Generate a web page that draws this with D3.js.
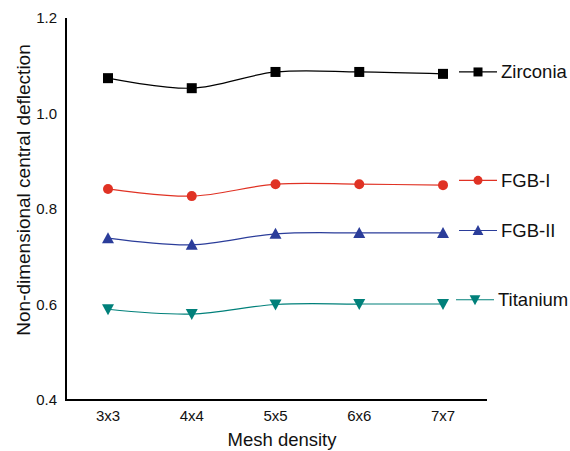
<!DOCTYPE html>
<html><head><meta charset="utf-8">
<script src="https://cdn.jsdelivr.net/npm/d3@7"></script>
<style>body{margin:0;background:#fff}svg{display:block}text{font-family:"Liberation Sans",Arial,sans-serif}</style>
</head><body>
<svg id="c" width="570" height="451"></svg>
<script>
const categories = ["3x3","4x4","5x5","6x6","7x7"];
const zirconia = [1.074,1.053,1.087,1.087,1.083];
const fgb1 = [0.842,0.827,0.852,0.852,0.850];
const fgb2 = [0.739,0.725,0.748,0.750,0.750];
const titanium = [0.590,0.580,0.600,0.601,0.601];
const yTicks = [0.4,0.6,0.8,1.0,1.2];
const seriesNames = ["Zirconia","FGB-I","FGB-II","Titanium"];
const seriesColors = ["#000000","#e03224","#2b3d9a","#00807a"];
const seriesShapes = ["square","circle","triangle","down"];
const seriesData = [zirconia,fgb1,fgb2,titanium];
const legendY = [1.087,0.860,0.755,0.610];

const svg = d3.select("#c");
const x = d3.scalePoint().domain(categories).range([108,443]);
const y = d3.scaleLinear().domain([0.4,1.2]).range([400,18]);

svg.append("line").attr("x1",66).attr("x2",66).attr("y1",18).attr("y2",401).attr("stroke","#000").attr("stroke-width",2);
svg.append("line").attr("x1",65).attr("x2",487).attr("y1",400).attr("y2",400).attr("stroke","#000").attr("stroke-width",2);

svg.selectAll(".yt").data(yTicks).enter().append("text")
 .attr("x",57).attr("y",d=>y(d)+5).attr("text-anchor","end").attr("font-size",15).attr("fill","#111").text(d=>d.toFixed(1));
svg.selectAll(".xt").data(categories).enter().append("text")
 .attr("x",d=>x(d)).attr("y",421).attr("text-anchor","middle").attr("font-size",15).attr("fill","#111").text(d=>d);
svg.append("text").attr("x",282).attr("y",446).attr("text-anchor","middle").attr("font-size",18.5).attr("fill","#111").text("Mesh density");
svg.append("text").attr("transform","translate(30,190) rotate(-90)").attr("text-anchor","middle").attr("font-size",19).attr("fill","#111").text("Non-dimensional central deflection");

function marker(g,shape,cx,cy,col,s){
  if(shape==="square") g.append("rect").attr("x",cx-5*s).attr("y",cy-5*s).attr("width",10*s).attr("height",10*s).attr("fill",col);
  else if(shape==="circle") g.append("circle").attr("cx",cx).attr("cy",cy).attr("r",5*s).attr("fill",col);
  else if(shape==="triangle") g.append("path").attr("d",`M${cx},${cy-6*s}L${cx+6*s},${cy+5*s}L${cx-6*s},${cy+5*s}Z`).attr("fill",col);
  else g.append("path").attr("d",`M${cx-6*s},${cy-5*s}L${cx+6*s},${cy-5*s}L${cx},${cy+6*s}Z`).attr("fill",col);
}
const line = d3.line().x((d,i)=>x(categories[i])).y(d=>y(d)).curve(d3.curveCatmullRom.alpha(0.5));
seriesData.forEach((vals,k)=>{
  const g = svg.append("g");
  g.append("path").attr("d",line(vals)).attr("fill","none").attr("stroke",seriesColors[k]).attr("stroke-width",1.2);
  vals.forEach((v,i)=>marker(g,seriesShapes[k],x(categories[i]),y(v),seriesColors[k],1));
  const ly = y(legendY[k]);
  const lx = k===3?456:459;
  g.append("line").attr("x1",lx).attr("x2",lx+38).attr("y1",ly).attr("y2",ly).attr("stroke",seriesColors[k]).attr("stroke-width",1.2);
  marker(g,seriesShapes[k],lx+19,ly,seriesColors[k],0.9);
  g.append("text").attr("x",lx+42).attr("y",ly+6.5).attr("font-size",18.5).attr("fill","#111").text(seriesNames[k]);
});
</script>
</body></html>
